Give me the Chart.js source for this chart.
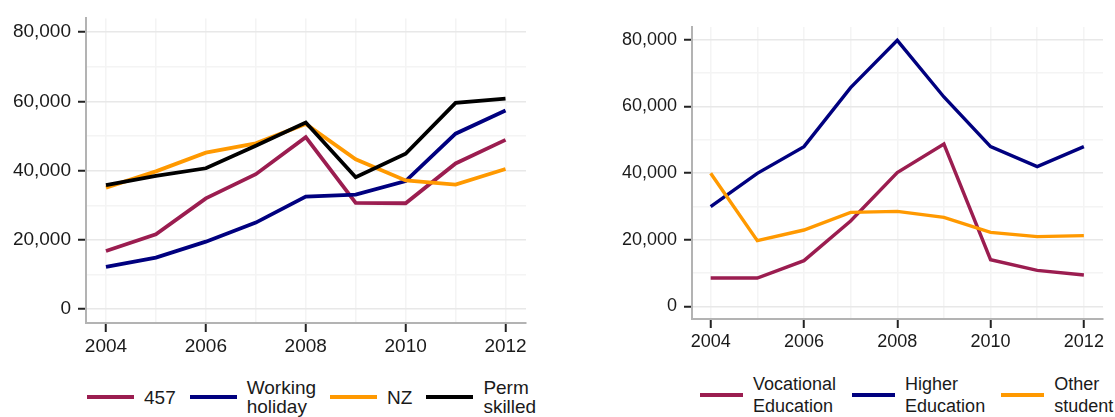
<!DOCTYPE html>
<html>
<head>
<meta charset="utf-8">
<script src="https://cdn.jsdelivr.net/npm/chart.js@4.4.1/dist/chart.umd.min.js"></script>
<style>
    html, body { margin: 0; padding: 0; background: #fff; }
    body {
        width: 1115px; height: 417px; position: relative; overflow: hidden;
        font-family: "Liberation Sans", Arial, Helvetica, sans-serif; color: #1a1a1a;
    }
    canvas { position: absolute; top: 0; }
    #leftChart { left: 0; }
    #rightChart { left: 600px; }
    .legend { position: absolute; display: flex; align-items: center; }
    .legend .item { display: flex; align-items: center; }
    .legend .swatch { height: 4px; margin-right: 10px; flex: none; }
    .legend .label { white-space: nowrap; }
    #leftLegend { left: 87px; top: 378px; height: 38px; font-size: 19px; line-height: 19px; }
    #leftLegend .item { margin-right: 14px; }
    #leftLegend .swatch { width: 47px; }
    #rightLegend { left: 700px; top: 373px; height: 44px; font-size: 18px; line-height: 22px; }
    #rightLegend .item { margin-right: 16px; }
    #rightLegend .swatch { width: 43px; }
</style>
</head>
<body>
<canvas id="leftChart" width="540" height="360"></canvas>
<canvas id="rightChart" width="515" height="360"></canvas>
<div class="legend" id="leftLegend"></div>
<div class="legend" id="rightLegend"></div>

<script>
// --- Data ---
const years = [2004, 2005, 2006, 2007, 2008, 2009, 2010, 2011, 2012];
const yTickValues = [0, 10000, 20000, 30000, 40000, 50000, 60000, 70000, 80000];

// left panel: visa types
const visa457 = [16800, 21600, 32000, 39000, 49700, 30700, 30600, 42100, 48900];
const workingHoliday = [12200, 14900, 19500, 25000, 32500, 33100, 37000, 50700, 57400];
const nzCitizens = [35100, 39800, 45200, 47900, 53500, 43300, 37200, 36000, 40500];
const permSkilled = [35800, 38500, 40700, 47200, 53900, 38100, 44900, 59600, 60800];
const leftNames = [['457'], ['Working', 'holiday'], ['NZ'], ['Perm', 'skilled']];

// right panel: students
const vocational = [8500, 8500, 13700, 25600, 40100, 48700, 14000, 10800, 9400];
const higherEd = [29900, 39900, 47900, 65600, 79800, 62800, 47900, 41900, 47900];
const otherStudent = [39900, 19700, 22900, 28200, 28500, 26700, 22200, 20900, 21200];
const rightNames = [['Vocational', 'Education'], ['Higher', 'Education'], ['Other', 'student']];

const CRIMSON = '#9b1d50';
const NAVY = '#00007f';
const ORANGE = '#ff9900';
const BLACK = '#000000';

const FONT = '"Liberation Sans", Arial, Helvetica, sans-serif';

// --- Chart helpers ---
function buildChart(canvasId, series, colors, opt) {
    const datasets = series.map((values, i) => ({
        label: opt.names[i].join(' '),
        data: years.map((yr, j) => ({ x: yr, y: values[j] })),
        borderColor: colors[i],
        backgroundColor: colors[i],
        borderWidth: opt.lineWidth,
        pointRadius: 0,
        tension: 0,
        order: series.length - i   // later series drawn on top
    }));

    return new Chart(document.getElementById(canvasId), {
        type: 'line',
        data: { datasets },
        options: {
            responsive: false,
            animation: false,
            layout: { padding: { top: opt.padTop, right: opt.padRight, left: 0, bottom: 0 } },
            plugins: { legend: { display: false }, tooltip: { enabled: false } },
            scales: {
                x: {
                    type: 'linear',
                    min: 2003.6,
                    max: 2012.41,
                    afterBuildTicks: s => { s.ticks = years.map(v => ({ value: v })); },
                    afterFit: s => { s.height = opt.xHeight; },
                    grid: {
                        color: '#f4f4f4',
                        lineWidth: 1.5,
                        tickLength: 9,
                        tickWidth: 2,
                        tickColor: ctx => (ctx.tick && ctx.tick.value % 2 === 0) ? '#222' : 'rgba(0,0,0,0)'
                    },
                    border: { color: '#b3b3b3', width: 2 },
                    ticks: {
                        autoSkip: false,
                        maxRotation: 0,
                        padding: 3,
                        color: '#1a1a1a',
                        font: { family: FONT, size: opt.fontSize },
                        callback: v => (v % 2 === 0 ? String(v) : '')
                    }
                },
                y: {
                    min: opt.yMin,
                    max: opt.yMax,
                    afterBuildTicks: s => { s.ticks = yTickValues.map(v => ({ value: v })); },
                    afterFit: s => { s.width = opt.yWidth; },
                    grid: {
                        color: ctx => (ctx.tick && ctx.tick.value % 20000 === 0) ? '#e8e8e8' : '#f4f4f4',
                        lineWidth: 1.5,
                        tickLength: 8,
                        tickWidth: 2,
                        tickColor: ctx => (ctx.tick && ctx.tick.value % 20000 === 0) ? '#222' : 'rgba(0,0,0,0)'
                    },
                    border: { color: '#b3b3b3', width: 2 },
                    ticks: {
                        padding: 7,
                        color: '#1a1a1a',
                        font: { family: FONT, size: opt.fontSize },
                        callback: v => (v % 20000 === 0 ? v.toLocaleString('en-US') : '')
                    }
                }
            }
        }
    });
}

function buildLegend(elId, names, colors) {
    const box = document.getElementById(elId);
    names.forEach((lines, i) => {
        const item = document.createElement('div');
        item.className = 'item';
        const sw = document.createElement('div');
        sw.className = 'swatch';
        sw.style.background = colors[i];
        const label = document.createElement('div');
        label.className = 'label';
        label.innerHTML = lines.join('<br>');
        item.appendChild(sw);
        item.appendChild(label);
        box.appendChild(item);
    });
}

// --- Build ---
const leftColors = [CRIMSON, NAVY, ORANGE, BLACK];
const rightColors = [CRIMSON, NAVY, ORANGE];

buildChart('leftChart', [visa457, workingHoliday, nzCitizens, permSkilled], leftColors, {
    names: leftNames, lineWidth: 3.8, fontSize: 19,
    padTop: 8, padRight: 14, yWidth: 86, xHeight: 37,
    yMin: -4000, yMax: 84000
});

buildChart('rightChart', [vocational, higherEd, otherStudent], rightColors, {
    names: rightNames, lineWidth: 3.4, fontSize: 18,
    padTop: 27, padRight: 12, yWidth: 92, xHeight: 41,
    yMin: -3800, yMax: 83800
});

buildLegend('leftLegend', leftNames, leftColors);
buildLegend('rightLegend', rightNames, rightColors);
</script>
</body>
</html>
